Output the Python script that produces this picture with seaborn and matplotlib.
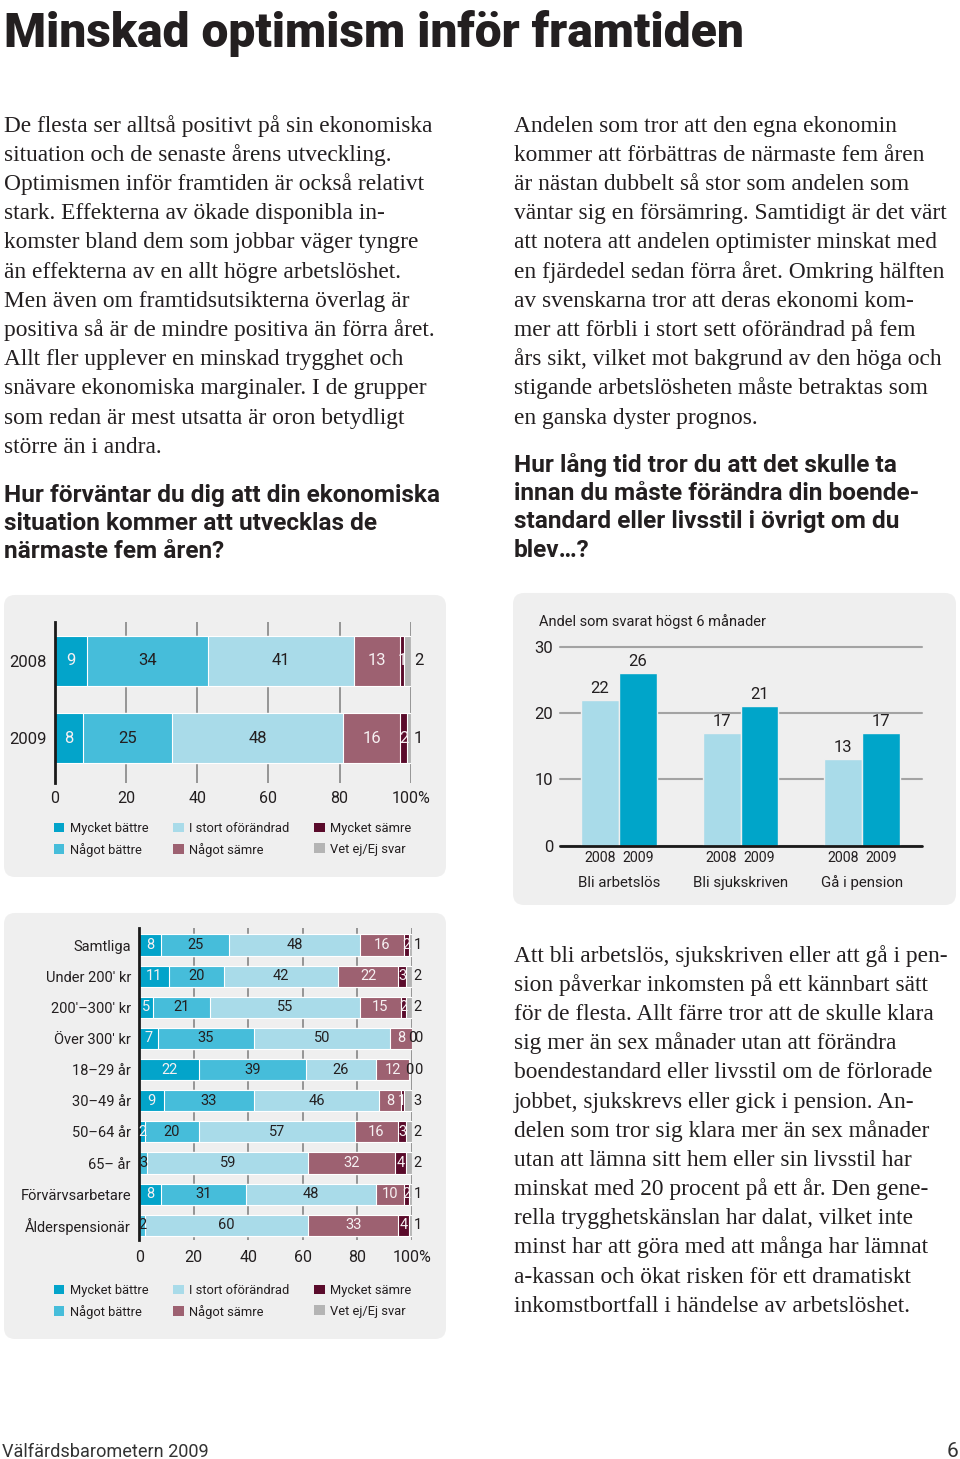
import numpy as np
import pandas as pd
import matplotlib
matplotlib.use('Agg')
import matplotlib.pyplot as plt
from matplotlib.patches import FancyBboxPatch, Patch
from matplotlib.transforms import Affine2D
import seaborn as sns

# answer categories used by both stacked charts
svar = ['Mycket bättre', 'Något bättre', 'I stort oförändrad',
        'Något sämre', 'Mycket sämre', 'Vet ej/Ej svar']

# expected development, per year (percent)
ar = ['2008', '2009']
ar_mycket_battre = [9, 8]
ar_nagot_battre = [34, 25]
ar_oforandrad = [41, 48]
ar_nagot_samre = [13, 16]
ar_mycket_samre = [1, 2]
ar_vet_ej = [2, 1]

# expected development 2009, per group (percent)
grupper = ['Samtliga', "Under 200' kr", "200'–300' kr", "Över 300' kr",
           '18–29 år', '30–49 år', '50–64 år', '65– år',
           'Förvärvsarbetare', 'Ålderspensionär']
gr_mycket_battre = [8, 11, 5, 7, 22, 9, 2, 0, 8, 0]
gr_nagot_battre = [25, 20, 21, 35, 39, 33, 20, 3, 31, 2]
gr_oforandrad = [48, 42, 55, 50, 26, 46, 57, 59, 48, 60]
gr_nagot_samre = [16, 22, 15, 8, 12, 8, 16, 32, 10, 33]
gr_mycket_samre = [2, 3, 2, 0, 0, 1, 3, 4, 2, 4]
gr_vet_ej = [1, 2, 2, 0, 0, 3, 2, 2, 1, 1]

# share answering at most 6 months
handelse = ['Bli arbetslös', 'Bli sjukskriven', 'Gå i pension']
andel_2008 = [22, 17, 13]
andel_2009 = [26, 21, 17]

rubrik = 'Minskad optimism inför framtiden'
text_vanster = [
    'De flesta ser alltså positivt på sin ekonomiska',
    'situation och de senaste årens utveckling.',
    'Optimismen inför framtiden är också relativt',
    'stark. Effekterna av ökade disponibla in-',
    'komster bland dem som jobbar väger tyngre',
    'än effekterna av en allt högre arbetslöshet.',
    'Men även om framtidsutsikterna överlag är',
    'positiva så är de mindre positiva än förra året.',
    'Allt fler upplever en minskad trygghet och',
    'snävare ekonomiska marginaler. I de grupper',
    'som redan är mest utsatta är oron betydligt',
    'större än i andra.',
]
text_hoger = [
    'Andelen som tror att den egna ekonomin',
    'kommer att förbättras de närmaste fem åren',
    'är nästan dubbelt så stor som andelen som',
    'väntar sig en försämring. Samtidigt är det värt',
    'att notera att andelen optimister minskat med',
    'en fjärdedel sedan förra året. Omkring hälften',
    'av svenskarna tror att deras ekonomi kom-',
    'mer att förbli i stort sett oförändrad på fem',
    'års sikt, vilket mot bakgrund av den höga och',
    'stigande arbetslösheten måste betraktas som',
    'en ganska dyster prognos.',
]
fraga_1 = ['Hur förväntar du dig att din ekonomiska',
           'situation kommer att utvecklas de',
           'närmaste fem åren?']
fraga_2 = ['Hur lång tid tror du att det skulle ta',
           'innan du måste förändra din boende-',
           'standard eller livsstil i övrigt om du',
           'blev…?']
text_nere = [
    'Att bli arbetslös, sjukskriven eller att gå i pen-',
    'sion påverkar inkomsten på ett kännbart sätt',
    'för de flesta. Allt färre tror att de skulle klara',
    'sig mer än sex månader utan att förändra',
    'boendestandard eller livsstil om de förlorade',
    'jobbet, sjukskrevs eller gick i pension. An-',
    'delen som tror sig klara mer än sex månader',
    'utan att lämna sitt hem eller sin livsstil har',
    'minskat med 20 procent på ett år. Den gene-',
    'rella trygghetskänslan har dalat, vilket inte',
    'minst har att göra med att många har lämnat',
    'a-kassan och ökat risken för ett dramatiskt',
    'inkomstbortfall i händelse av arbetslöshet.',
]
diagram_titel = 'Andel som svarat högst 6 månader'
sidfot = 'Välfärdsbarometern 2009'
sidnummer = '6'

farger = ['#03a4ca', '#46bdda', '#a9dbe9', '#9d6171', '#5a0b2b', '#b4b4b4']
textfarg = '#231f20'
panelfarg = '#efefef'

sns.set_style('white')
SANS = ['Roboto', 'DejaVu Sans']
SERIF = ['Liberation Serif', 'DejaVu Serif']
plt.rcParams['font.family'] = SANS
plt.rcParams['text.color'] = textfarg
plt.rcParams['xtick.color'] = textfarg
plt.rcParams['ytick.color'] = textfarg

W, H = 960, 1459
fig = plt.figure(figsize=(9.6, 14.5901), dpi=100)
pix = Affine2D().scale(1 / W, 1 / H) + fig.transFigure


def add_ax(x0, y0, x1, y1):
    ax = fig.add_axes([x0 / W, 1 - y1 / H, (x1 - x0) / W, (y1 - y0) / H])
    ax.set_facecolor('none')
    return ax


def panel(x0, y0, x1, y1):
    p = FancyBboxPatch((x0, H - y1), x1 - x0, y1 - y0,
                       boxstyle='round,pad=0,rounding_size=11',
                       transform=pix, fc=panelfarg, ec='none', zorder=-5)
    fig.add_artist(p)


def put(x, y, s, **kw):
    return fig.text(x / W, 1 - y / H, s, **kw)


def block(lines, x, y0, step, **kw):
    return [put(x, y0 + i * step, s, va='baseline', ha='left', **kw)
            for i, s in enumerate(lines)]


def fit(group, refs):
    r = fig.canvas.get_renderer()
    sizes = [t.get_fontsize() * w / t.get_window_extent(r).width for t, w in refs]
    s = float(np.mean(sizes))
    for t in group:
        t.set_fontsize(s)


def stacked(ax, cats, series, bar_h, fs):
    vals = np.array(series, dtype=float)
    cum = vals.cumsum(axis=0)
    for k in range(len(series) - 1, -1, -1):
        sns.barplot(x=cum[k], y=cats, orient='h', color=farger[k], width=bar_h,
                    saturation=1, errorbar=None, edgecolor='white',
                    linewidth=0.8, ax=ax)
    for k in range(len(series)):
        for i in range(len(cats)):
            v = vals[k, i]
            if k == len(series) - 1:
                x, c = 102.2, textfarg
            elif v == 0 and k < 3:
                continue
            else:
                x = cum[k, i] - v / 2
                c = '#f6f0f2' if (k in (0, 3, 4) and v > 0) else textfarg
            ax.text(x, i, f'{v:.0f}', ha='center', va='center', color=c,
                    fontsize=fs, clip_on=False)
    ax.set_xlim(0, 100)
    ax.set_xticks(range(0, 101, 20), ['0', '20', '40', '60', '80', '100%'])
    ax.xaxis.grid(True, color='#8e8e8e', lw=1.3)
    ax.set_axisbelow(True)
    for s in ['top', 'right', 'bottom']:
        ax.spines[s].set_visible(False)
    ax.spines['left'].set_color('#1a1a1a')
    ax.spines['left'].set_linewidth(2)
    ax.tick_params(length=0)
    ax.set(xlabel='', ylabel='')


# panels
panel(4, 595, 446, 877)
panel(513, 593, 956, 905)
panel(4, 913, 446, 1339)

# text
titel = put(4, 47, rubrik, fontsize=36, fontweight='black', va='baseline')
b1 = block(text_vanster, 4, 131.7, 29.18, fontsize=15, family=SERIF)
b2 = block(text_hoger, 514, 131.7, 29.18, fontsize=15, family=SERIF)
b3 = block(text_nere, 514, 961.7, 29.17, fontsize=15, family=SERIF)
h1 = block(fraga_1, 4, 501.7, 28.3, fontsize=18, fontweight='bold')
h2 = block(fraga_2, 514, 471.7, 28.3, fontsize=18, fontweight='bold')
fot = put(2, 1457, sidfot, fontsize=14, va='baseline', color='#333333')
put(958, 1457, sidnummer, fontsize=15, va='baseline', ha='right', color='#333333')

fit([titel], [(titel, 740)])
fit(b1 + b2 + b3, [(b1[7], 437), (b2[3], 439), (b3[0], 428)])
fit(h1 + h2, [(h1[0], 436), (h2[0], 384)])
fit([fot], [(fot, 208)])

# stacked chart, per year
ax1 = add_ax(55, 622, 410.7, 783)
stacked(ax1, ar, [ar_mycket_battre, ar_nagot_battre, ar_oforandrad,
                  ar_nagot_samre, ar_mycket_samre, ar_vet_ej], 0.65, 12)
ax1.set_ylim(1.584, -0.506)
ax1.tick_params(axis='x', pad=6, labelsize=11.5)
ax1.tick_params(axis='y', pad=6, labelsize=12)

# stacked chart, per group
ax2 = add_ax(139.3, 928, 411.8, 1240)
stacked(ax2, grupper, [gr_mycket_battre, gr_nagot_battre, gr_oforandrad,
                       gr_nagot_samre, gr_mycket_samre, gr_vet_ej], 0.68, 10.5)
ax2.set_ylim(9.47, -0.546)
ax2.tick_params(axis='x', pad=7, labelsize=11.5)
ax2.tick_params(axis='y', pad=6, labelsize=10.5)

handles = [Patch(facecolor=c, edgecolor='none', label=l) for c, l in zip(farger, svar)]
for ytop in (822, 1284):
    fig.legend(handles=handles, loc='upper left', ncol=3, frameon=False,
               bbox_to_anchor=(54 / W, 1 - ytop / H), bbox_transform=fig.transFigure,
               fontsize=9.3, handlelength=0.8, handleheight=0.8,
               handletextpad=0.45, columnspacing=1.9, labelspacing=0.6,
               borderpad=0, borderaxespad=0)

# grouped bar chart
ax3 = add_ax(560, 646.7, 922, 845.7)
df = pd.DataFrame({'händelse': handelse * 2,
                   'år': ['2008'] * 3 + ['2009'] * 3,
                   'andel': andel_2008 + andel_2009})
sns.barplot(data=df, x='händelse', y='andel', hue='år',
            palette=['#a9dbe9', '#00a5c9'], width=0.625, saturation=1,
            errorbar=None, edgecolor=panelfarg, linewidth=1, legend=False, ax=ax3)
ax3.set_ylim(0, 30)
ax3.set_xlim(-0.486, 2.494)
for cont, yr in zip(ax3.containers, ['2008', '2009']):
    ax3.bar_label(cont, fmt='%d', padding=3, fontsize=12, color=textfarg)
    for p in cont:
        ax3.text(p.get_x() + p.get_width() / 2, -1.85, yr, ha='center',
                 va='center', fontsize=10.2, clip_on=False)
ax3.set_yticks([0, 10, 20, 30])
ax3.yaxis.grid(True, color='#a3a3a3', lw=1.5)
for gl in ax3.get_ygridlines():
    gl.set_clip_on(False)
ax3.set_axisbelow(True)
ax3.axhline(0, color='#1a1a1a', lw=2, clip_on=False)
for s in ax3.spines.values():
    s.set_visible(False)
ax3.tick_params(axis='x', length=0, pad=30, labelsize=10.8)
for lbl in ax3.get_xticklabels():
    lbl.set_va('baseline')
ax3.tick_params(axis='y', length=0, pad=5, labelsize=12)
ax3.set(xlabel='', ylabel='')
put(539, 622, diagram_titel, fontsize=10.5, va='center')

fig.savefig('out.png', dpi=100)
